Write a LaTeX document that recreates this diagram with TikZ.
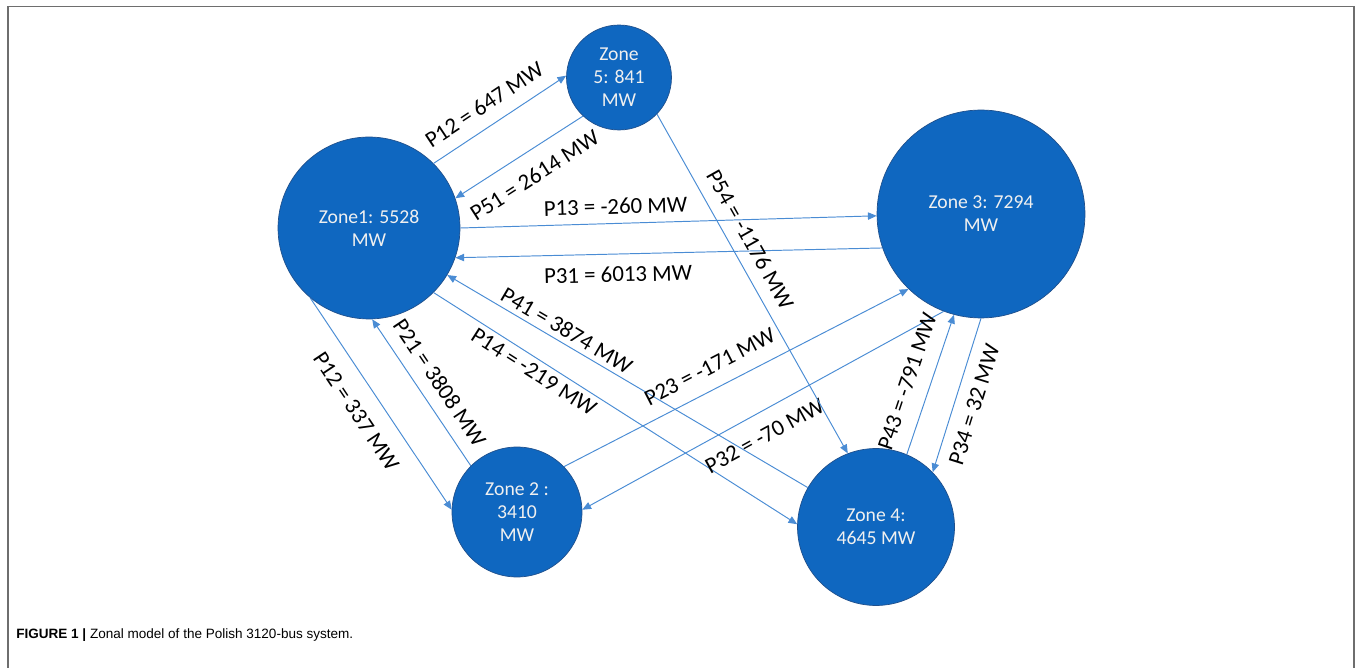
\documentclass[tikz,border=0pt]{standalone}
\usepackage{fontspec}
\setmainfont{Carlito}
\newfontfamily\capfont{Liberation Sans}
\usetikzlibrary{arrows.meta}
\definecolor{zoneblue}{RGB}{15,103,192}
\definecolor{zoneedge}{RGB}{32,80,140}
\definecolor{flowblue}{RGB}{74,140,212}
\definecolor{framegray}{RGB}{110,110,110}
\tikzstyle{zone} = [circle, fill=zoneblue, draw=zoneedge, line width=0.4pt, inner sep=0pt,
  text=white!94!black, font=\fontsize{11.2}{13.2}\selectfont, align=center]
\tikzstyle{flow} = [draw=flowblue, line width=0.55pt, -{Triangle[length=5pt,width=4.2pt]}]
\tikzstyle{flowlabel} = [sloped, inner sep=0pt, font=\fontsize{13}{15}\selectfont]

\begin{document}
\begin{tikzpicture}[x=0.02cm,y=-0.02cm]
\useasboundingbox (0,0) rectangle (1356,668);

%\draw[help lines,step=50] (0,0) grid (1356,668);

% frame
\draw[framegray, line width=0.85pt] (8,668) -- (8,6.5) -- (1354,6.5) -- (1354,668);

% zones
\node[zone, minimum size=3.64cm] (z1) at (369,228) {Zone1: 5528\\MW};
\node[zone, minimum size=2.1cm] (z5) at (619,77.5) {Zone\\5: 841\\MW};
\node[zone, minimum size=4.16cm] (z3) at (981,214) {Zone 3: 7294\\MW};
\node[zone, minimum size=2.6cm] (z2) at (517,512) {Zone 2 :\\3410\\MW};
\node[zone, minimum size=3.14cm] (z4) at (876,527) {Zone 4:\\4645 MW};

% flows
\draw[flow] (z1.45) -- node[flowlabel, pos=0.47, above=7.3pt] (f15) {P12 = 647 MW} (z5.178);
\draw[flow] (z5.-133) -- node[flowlabel, pos=0.48, below=8.8pt] (f51) {P51 = 2614 MW} (z1.19);
\draw[flow] (z1.0) -- node[flowlabel, pos=0.374, above=5pt] (f13) {P13 = -260 MW} (z3.181);
\draw[flow] (z3.199) -- node[flowlabel, pos=0.62, below=6.8pt] (f31) {P31 = 6013 MW} (z1.-19);
\draw[flow] (z4.150.5) -- node[flowlabel, pos=0.687, above=2.8pt] (f41) {P41 = 3874 MW} (z1.-31.7);
\draw[flow] (z1.-45.4) -- node[flowlabel, pos=0.295, below=2.8pt] (f14) {P14 = -219 MW} (z4.178.5);
\draw[flow] (z1.-130) -- node[flowlabel, pos=0.471, below=9.6pt] (f12) {P12 = 337 MW} (z2.178);
\draw[flow] (z2.135) -- node[flowlabel, pos=0.488, above=7pt] (f21) {P21 = 3808 MW} (z1.-88);
\draw[flow] (z2.44) -- node[flowlabel, pos=0.452, above=7.9pt] (f23) {P23 = -171 MW} (z3.226);
\draw[flow] (z3.249.6) -- node[flowlabel, pos=0.526, below=8.6pt] (f32) {P32 = -70 MW} (z2.2);
\draw[flow] (z5.-44) -- node[flowlabel, pos=0.398, above=6.6pt] (f54) {P54 = -1176 MW} (z4.111);
\draw[flow] (z4.67.7) -- node[flowlabel, pos=0.47, above=8.5pt] (f43) {P43 = -791 MW} (z3.255);
\draw[flow] (z3.270) -- node[flowlabel, pos=0.525, below=6.5pt] (f34) {P34 = 32 MW} (z4.44);

% caption
\node[anchor=base west, inner sep=0pt, font=\capfont\fontsize{7.7}{9}\selectfont] (cap) at (16,639)
  {\textbf{FIGURE 1 |} Zonal model of the Polish 3120-bus system.};
\end{tikzpicture}
\end{document}
